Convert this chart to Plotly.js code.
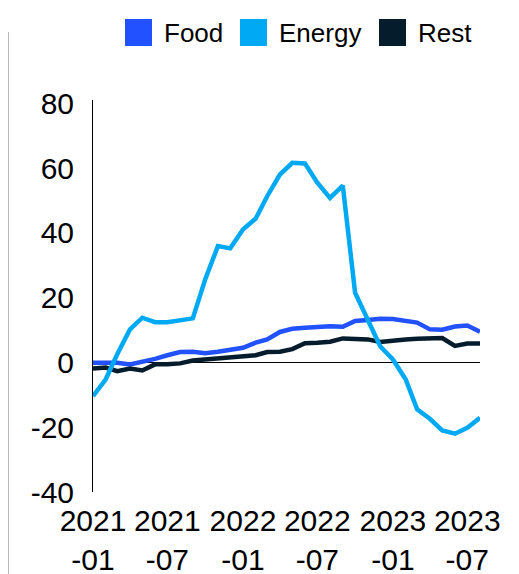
<!DOCTYPE html>
<html>
<head>
<meta charset="utf-8">
<script src="https://cdn.plot.ly/plotly-3.0.1.min.js"></script>
<style>
  html, body { margin: 0; padding: 0; background: #fff; }
  #chart { width: 519px; height: 574px; }
</style>
</head>
<body>
<div id="chart"></div>
<script>
// Monthly periods, Jan 2021 to Aug 2023
const months = [
  '2021-01-01','2021-02-01','2021-03-01','2021-04-01','2021-05-01','2021-06-01',
  '2021-07-01','2021-08-01','2021-09-01','2021-10-01','2021-11-01','2021-12-01',
  '2022-01-01','2022-02-01','2022-03-01','2022-04-01','2022-05-01','2022-06-01',
  '2022-07-01','2022-08-01','2022-09-01','2022-10-01','2022-11-01','2022-12-01',
  '2023-01-01','2023-02-01','2023-03-01','2023-04-01','2023-05-01','2023-06-01',
  '2023-07-01','2023-08-01'
];

// Year-on-year change, %
const food = [
  -0.1, -0.1, -0.1, -0.6, 0.1, 1.1, 2.2, 3.2, 3.3, 2.8, 3.3, 3.8,
  4.5, 6.1, 7.1, 9.4, 10.4, 10.7, 10.9, 11.2, 11.0, 12.8, 13.1, 13.5,
  13.4, 12.9, 12.3, 10.2, 10.1, 11.1, 11.4, 9.5
];
const energy = [
  -10.4, -5.2, 2.5, 10.2, 13.8, 12.4, 12.4, 13.1, 13.6, 25.6, 35.9, 35.2,
  41.0, 44.4, 51.3, 58.0, 61.6, 61.4, 55.5, 50.8, 54.6, 21.5, 13.3, 5.0,
  0.9, -5.2, -14.5, -17.4, -21.0, -22.0, -20.2, -17.1
];
const rest = [
  -1.9, -1.6, -2.7, -1.9, -2.5, -0.6, -0.6, -0.3, 0.6, 0.9, 1.2, 1.5,
  1.9, 2.2, 3.2, 3.3, 4.1, 5.9, 6.1, 6.4, 7.4, 7.1, 7.1, 6.3,
  6.8, 7.1, 7.3, 7.5, 7.5, 5.1, 5.8, 5.8
];

const seriesNames = ['Food', 'Energy', 'Rest'];
const seriesColors = { Food: '#2251FF', Energy: '#00A9F4', Rest: '#051C2C' };

const tickDates = ['2021-01-01','2021-07-01','2022-01-01','2022-07-01','2023-01-01','2023-07-01'];
const tickLabels = ['2021<br>-01','2021<br>-07','2022<br>-01','2022<br>-07','2023<br>-01','2023<br>-07'];
const yTicks = [-40, -20, 0, 20, 40, 60, 80];
const yTickLabels = ['-40', '-20', '0', '20', '40', '60', '80'];

const FONT = 'Liberation Sans, Arial, sans-serif';

function line(name, values) {
  return {
    type: 'scatter', mode: 'lines', name: name,
    x: months, y: values,
    line: { color: seriesColors[name], width: 4.5 },
    showlegend: false, hoverinfo: 'skip'
  };
}

// Energy drawn last so it sits above the other two lines
const data = [line('Food', food), line('Rest', rest), line('Energy', energy)];

// Square-swatch key across the top
const keyX = [125, 240, 379];
const shapes = [];
const annotations = [];
seriesNames.forEach((n, i) => {
  shapes.push({
    type: 'rect', xref: 'paper', yref: 'paper',
    x0: (keyX[i] - 93) / 387, x1: (keyX[i] + 27 - 93) / 387,
    y0: (492 - 19) / 392, y1: (492 - 46) / 392,
    fillcolor: seriesColors[n], line: { width: 0 }
  });
  annotations.push({
    xref: 'paper', yref: 'paper', xanchor: 'left', yanchor: 'middle',
    x: (keyX[i] + 37 - 93) / 387, y: (492 - 33) / 392,
    text: n, showarrow: false,
    font: { family: FONT, size: 26, color: '#000' }
  });
});
// thin grey rule at the far left
shapes.push({
  type: 'line', xref: 'paper', yref: 'paper',
  x0: (8.5 - 93) / 387, x1: (8.5 - 93) / 387,
  y0: (492 - 32) / 392, y1: (492 - 575) / 392,
  line: { color: '#b8b8b8', width: 1 }
});

const layout = {
  width: 519, height: 574,
  margin: { l: 93, r: 39, t: 100, b: 82 },
  paper_bgcolor: '#fff', plot_bgcolor: '#fff',
  font: { family: FONT, size: 30, color: '#000' },
  showlegend: false,
  xaxis: {
    type: 'date',
    range: ['2021-01-01', '2023-08-01'],
    tickmode: 'array', tickvals: tickDates, ticktext: tickLabels,
    showgrid: false, zeroline: false, showline: false,
    ticks: '', ticklen: 0, ticklabelstandoff: 8,
    tickfont: { family: FONT, size: 30, color: '#000' }
  },
  yaxis: {
    range: [-40, 81],
    tickmode: 'array', tickvals: yTicks, ticktext: yTickLabels,
    showgrid: false,
    zeroline: true, zerolinecolor: '#000', zerolinewidth: 1,
    showline: true, linecolor: '#000', linewidth: 1,
    ticks: '', ticklabelstandoff: 12,
    tickfont: { family: FONT, size: 30, color: '#000' }
  },
  shapes: shapes,
  annotations: annotations
};

Plotly.newPlot('chart', data, layout, { displayModeBar: false, staticPlot: true });
</script>
</body>
</html>
